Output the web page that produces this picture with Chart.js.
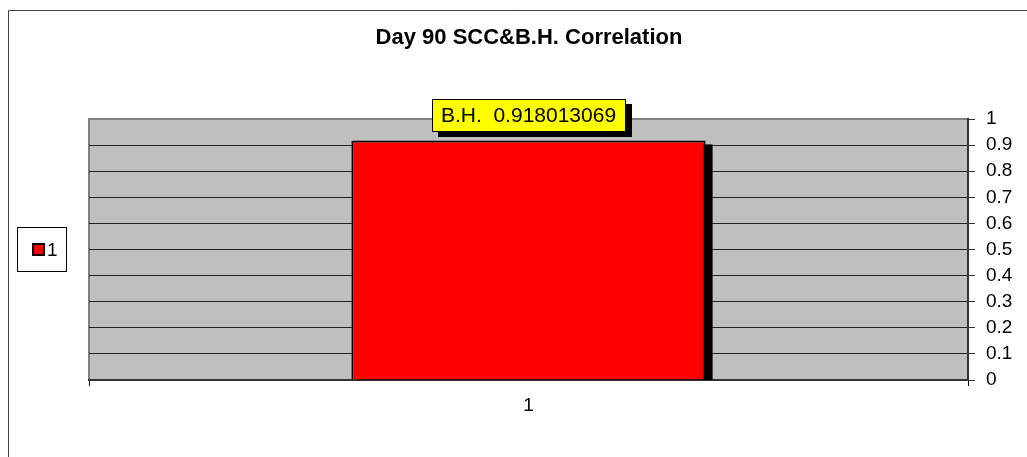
<!DOCTYPE html>
<html>
<head>
<meta charset="utf-8">
<script src="https://cdn.jsdelivr.net/npm/chart.js@4/dist/chart.umd.min.js"></script>
<style>
  html, body { margin: 0; padding: 0; background: #fff; }
  #wrap { width: 1027px; height: 457px; position: relative; }
</style>
</head>
<body>
<div id="wrap"><canvas id="first" width="1027" height="457"></canvas></div>
<script>
const chartTitle = "Day 90 SCC&B.H. Correlation";
const categories = ["1"];
const seriesName = "1";
const seriesValues = [0.918013069];
const labelPrefix = "B.H.";
const yTicks = [0, 0.1, 0.2, 0.3, 0.4, 0.5, 0.6, 0.7, 0.8, 0.9, 1];

const FONT = "'Liberation Sans', Arial, sans-serif";

// background, frame, title, legend, bar shadow and the yellow label
const excelLook = {
  id: "excelLook",
  beforeDraw(chart) {
    const c = chart.ctx, a = chart.chartArea;
    c.save();
    c.fillStyle = "#fff";
    c.fillRect(0, 0, chart.width, chart.height);
    // outer frame, only left and top are inside the picture
    c.strokeStyle = "#404040";
    c.lineWidth = 1;
    c.beginPath();
    c.moveTo(8.5, chart.height);
    c.lineTo(8.5, 10.5);
    c.lineTo(chart.width, 10.5);
    c.stroke();
    // plot area
    c.fillStyle = "#c0c0c0";
    c.fillRect(a.left, a.top, a.right - a.left, a.bottom - a.top);
    c.strokeStyle = "#808080";
    c.lineWidth = 2;
    c.beginPath();
    c.moveTo(a.left, a.bottom);
    c.lineTo(a.left, a.top);
    c.lineTo(a.right, a.top);
    c.stroke();
    // title
    c.fillStyle = "#000";
    c.font = "bold 22px " + FONT;
    c.textAlign = "center";
    c.textBaseline = "middle";
    c.fillText(chartTitle, 529, 38);
    // legend
    c.strokeStyle = "#000";
    c.lineWidth = 1;
    c.strokeRect(17.5, 227.5, 49, 44);
    c.fillStyle = "#000";
    c.fillRect(32, 243, 13, 13);
    c.fillStyle = "#ff0000";
    c.fillRect(34, 245, 9, 9);
    c.fillStyle = "#000";
    c.font = "19px " + FONT;
    c.textAlign = "left";
    c.fillText(chart.data.datasets[0].label, 47, 251);
    c.restore();
  },
  beforeDatasetsDraw(chart) {
    const c = chart.ctx, a = chart.chartArea;
    const meta = chart.getDatasetMeta(0);
    c.save();
    c.beginPath();
    c.rect(a.left, a.top - 30, a.right - a.left, a.bottom - a.top + 30);
    c.clip();
    c.fillStyle = "#000";
    meta.data.forEach((bar) => {
      const p = bar.getProps(["x", "y", "base", "width"], true);
      c.fillRect(p.x - p.width / 2 + 7, p.y + 4, p.width, p.base - p.y);
    });
    c.restore();
  },
  afterDatasetsDraw(chart) {
    const c = chart.ctx;
    const meta = chart.getDatasetMeta(0);
    const ds = chart.data.datasets[0];
    c.save();
    c.font = "21px " + FONT;
    c.textAlign = "center";
    c.textBaseline = "middle";
    meta.data.forEach((bar, i) => {
      const p = bar.getProps(["x", "y"], true);
      const txt = labelPrefix + "  " + ds.data[i];
      const w = Math.round(c.measureText(txt).width + 19);
      const h = 33;
      const x0 = Math.round(p.x - w / 2), y0 = Math.round(p.y - 8 - h);
      c.fillStyle = "#000";
      c.fillRect(x0 + 6, y0 + 5, w, h);
      c.fillStyle = "#ffff00";
      c.fillRect(x0, y0, w, h);
      c.strokeStyle = "#000";
      c.lineWidth = 1;
      c.strokeRect(x0 + 0.5, y0 + 0.5, w - 1, h - 1);
      c.fillStyle = "#000";
      c.fillText(txt, p.x, y0 + h / 2 + 1);
    });
    c.restore();
  }
};

new Chart("first", {
  type: "bar",
  data: {
    labels: categories,
    datasets: [{
      label: seriesName,
      data: seriesValues,
      backgroundColor: "#ff0000",
      borderColor: "#000",
      borderWidth: 2,
      barPercentage: 0.403,
      categoryPercentage: 1
    }]
  },
  options: {
    responsive: false,
    animation: false,
    layout: { padding: { left: 89, top: 119, right: 0, bottom: 0 } },
    plugins: {
      legend: { display: false },
      title: { display: false },
      tooltip: { enabled: false }
    },
    scales: {
      x: {
        offset: true,
        afterFit: (s) => { s.height = 77; },
        grid: { offset: true, drawOnChartArea: false, tickLength: 6, tickColor: "#000" },
        border: { color: "#333", width: 2 },
        ticks: { color: "#000", font: { size: 19, family: FONT }, padding: 8 }
      },
      y: {
        position: "right",
        min: 0,
        max: 1,
        afterFit: (s) => { s.width = 59; },
        afterBuildTicks: (s) => { s.ticks = yTicks.map((v) => ({ value: v })); },
        grid: {
          color: (ctx) => (ctx.tick && ctx.tick.value === 1 ? "#808080" : "#222"),
          tickLength: 7,
          tickColor: "#333"
        },
        border: { color: "#333", width: 2 },
        ticks: {
          color: "#000",
          padding: 11,
          font: { size: 19, family: FONT },
          callback: (v) => String(parseFloat(Number(v).toFixed(1)))
        }
      }
    }
  },
  plugins: [excelLook]
});
</script>
</body>
</html>
